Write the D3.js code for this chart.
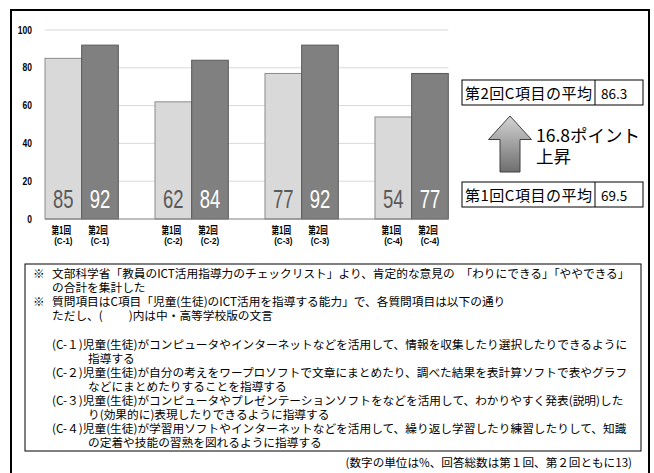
<!DOCTYPE html>
<html>
<head>
<meta charset="utf-8">
<script src="https://cdn.jsdelivr.net/npm/d3@7"></script>
<style>
  body { margin: 0; background: #fff; }
  svg { display: block; }
</style>
</head>
<body>
<div id="chart"></div>
<script>
// data
const categories = ["C-1", "C-2", "C-3", "C-4"];
const round1 = [85, 62, 77, 54];
const round2 = [92, 84, 92, 77];
const yTicks = [0, 20, 40, 60, 80, 100];
const roundLabels = ["第1回", "第2回"];
const avgLabels = ["第2回C項目の平均", "第1回C項目の平均"];
const avgValues = [86.3, 69.5];
const riseLabel = ["16.8ポイント", "上昇"];
// note lines: [marker, text, indent]
const noteLines = [
  ["※", "文部科学省「教員のICT活用指導力のチェックリスト」より、肯定的な意見の　「わりにできる」「ややできる」", 0],
  ["", "の合計を集計した", 0],
  ["※", "質問項目はC項目「児童(生徒)のICT活用を指導する能力」で、各質問項目は以下の通り", 0],
  ["", "ただし、(　　 )内は中・高等学校版の文言", 0],
  ["", "", 0],
  ["", "(C-１)児童(生徒)がコンピュータやインターネットなどを活用して、情報を収集したり選択したりできるように", 0],
  ["", "指導する", 1],
  ["", "(C-２)児童(生徒)が自分の考えをワープロソフトで文章にまとめたり、調べた結果を表計算ソフトで表やグラフ", 0],
  ["", "などにまとめたりすることを指導する", 1],
  ["", "(C-３)児童(生徒)がコンピュータやプレゼンテーションソフトをなどを活用して、わかりやすく発表(説明)した", 0],
  ["", "り(効果的に)表現したりできるように指導する", 1],
  ["", "(C-４)児童(生徒)が学習用ソフトやインターネットなどを活用して、繰り返し学習したり練習したりして、知識", 0],
  ["", "の定着や技能の習熟を図れるように指導する", 1]
];
const footnote = "(数字の単位は%、回答総数は第１回、第２回ともに13)";

const width = 654, height = 473;
const jp = "'Noto Sans CJK JP', sans-serif";
const latin = "'Liberation Sans', Arial, sans-serif";

const svg = d3.select("#chart").append("svg")
  .attr("width", width).attr("height", height);

// outer frame
svg.append("rect")
  .attr("x", 11).attr("y", 10).attr("width", 638).attr("height", 480)
  .attr("fill", "none").attr("stroke", "#000").attr("stroke-width", 2);

// scales
const y = d3.scaleLinear().domain([0, 100]).range([219, 30]);
const x0 = d3.scaleBand().domain(categories).range([45, 448.3])
  .paddingInner(1 / 3).paddingOuter(0);
const x1 = d3.scaleBand().domain([0, 1]).range([0, x0.bandwidth()]);

// grid
svg.append("g").selectAll("line").data(yTicks.filter(d => d > 0)).join("line")
  .attr("x1", x0.range()[0]).attr("x2", x0.range()[1])
  .attr("y1", d => y(d)).attr("y2", d => y(d))
  .attr("stroke", "#d9d9d9").attr("stroke-width", 1);

// y tick labels
svg.append("g").selectAll("text").data(yTicks).join("text")
  .attr("transform", d => `translate(32,${y(d) + 3.5}) scale(0.85,1)`)
  .attr("text-anchor", "end")
  .attr("font-family", latin).attr("font-weight", "bold")
  .attr("font-size", 10).attr("fill", "#000")
  .text(d => d);

// bars
const rows = categories.map((c, i) => ({ cat: c, vals: [round1[i], round2[i]] }));
const fills = ["#d9d9d9", "#808080"];
const strokes = ["#8c8c8c", "#595959"];
const labelColors = ["#595959", "#ffffff"];

const groups = svg.append("g").selectAll("g").data(rows).join("g")
  .attr("transform", d => `translate(${x0(d.cat)},0)`);

groups.selectAll("rect").data(d => d.vals.map((v, k) => ({ v, k }))).join("rect")
  .attr("x", d => x1(d.k)).attr("width", x1.bandwidth())
  .attr("y", d => y(d.v)).attr("height", d => y(0) - y(d.v))
  .attr("fill", d => fills[d.k]).attr("stroke", d => strokes[d.k]).attr("stroke-width", 1);

groups.selectAll("text.val").data(d => d.vals.map((v, k) => ({ v, k }))).join("text")
  .attr("class", "val")
  .attr("transform", d => `translate(${x1(d.k) + x1.bandwidth() / 2},${y(0) - 11}) scale(0.74,1)`)
  .attr("text-anchor", "middle")
  .attr("font-family", latin).attr("font-size", 25)
  .attr("fill", d => labelColors[d.k])
  .text(d => d.v);

// baseline
svg.append("line")
  .attr("x1", x0.range()[0]).attr("x2", x0.range()[1])
  .attr("y1", y(0)).attr("y2", y(0))
  .attr("stroke", "#808080").attr("stroke-width", 1);

// x labels
const xl = groups.selectAll("g.xl").data(d => [0, 1].map(k => ({ k, cat: d.cat }))).join("g")
  .attr("class", "xl")
  .attr("transform", d => `translate(${x1(d.k) + x1.bandwidth() / 2},0)`);
xl.append("text")
  .attr("transform", "translate(-2,233.5) scale(0.72,1)")
  .attr("text-anchor", "middle")
  .attr("font-family", jp).attr("font-weight", "bold").attr("font-size", 10.5)
  .text(d => roundLabels[d.k]);
xl.append("text")
  .attr("transform", "translate(0,244) scale(0.85,1)")
  .attr("text-anchor", "middle")
  .attr("font-family", latin).attr("font-weight", "bold").attr("font-size", 9.5)
  .text(d => `(${d.cat})`);

// average boxes
const boxY = [80, 182];
const avg = svg.append("g").selectAll("g").data(avgLabels).join("g")
  .attr("transform", (d, i) => `translate(462,${boxY[i]})`);
avg.append("rect").attr("width", 181).attr("height", 25)
  .attr("fill", "#fff").attr("stroke", "#000").attr("stroke-width", 1);
avg.append("line").attr("x1", 133).attr("x2", 133).attr("y1", 0).attr("y2", 25)
  .attr("stroke", "#000");
avg.append("text").attr("x", 3).attr("y", 18.5)
  .attr("font-family", jp).attr("font-size", 15).attr("letter-spacing", 0.5)
  .text(d => d);
avg.append("text").attr("x", 139).attr("y", 18.5)
  .attr("font-family", jp).attr("font-size", 13.5)
  .text((d, i) => avgValues[i]);

// up arrow
const defs = svg.append("defs");
const grad = defs.append("linearGradient").attr("id", "ag")
  .attr("x1", 0).attr("y1", 0).attr("x2", 0).attr("y2", 1);
grad.append("stop").attr("offset", "0%").attr("stop-color", "#d4d4d4");
grad.append("stop").attr("offset", "100%").attr("stop-color", "#6e6e6e");
const ax = 510, aTop = 116, aMid = 139.5, aBot = 172, head = 21.5, shaft = 10;
svg.append("path")
  .attr("d", d3.line()([
    [ax, aTop], [ax + head, aMid], [ax + shaft, aMid], [ax + shaft, aBot],
    [ax - shaft, aBot], [ax - shaft, aMid], [ax - head, aMid]
  ]) + "Z")
  .attr("fill", "url(#ag)").attr("stroke", "#404040").attr("stroke-width", 1);

svg.append("g").selectAll("text").data(riseLabel).join("text")
  .attr("x", 536).attr("y", (d, i) => 141.5 + i * 21)
  .attr("font-family", jp).attr("font-size", 17.5)
  .text(d => d);

// notes box
const noteTop = 264, lineH = 14.1;
svg.append("rect")
  .attr("x", 25).attr("y", noteTop).attr("width", 616).attr("height", 187)
  .attr("fill", "none").attr("stroke", "#000").attr("stroke-width", 1);

const notes = svg.append("g")
  .attr("font-family", jp).attr("font-size", 11.7).attr("fill", "#000");
notes.selectAll("text.mk").data(noteLines.filter(d => d[0])).join("text")
  .attr("class", "mk")
  .attr("x", 33)
  .attr("y", d => noteTop + 14 + noteLines.indexOf(d) * lineH)
  .text(d => d[0]);
notes.selectAll("text.ln").data(noteLines).join("text")
  .attr("class", "ln")
  .attr("x", d => d[2] ? 88 : 52)
  .attr("y", (d, i) => noteTop + 14 + i * lineH)
  .text(d => d[1]);

svg.append("text")
  .attr("x", 632).attr("y", 467)
  .attr("text-anchor", "end")
  .attr("font-family", jp).attr("font-size", 11.6)
  .text(footnote);
</script>
</body>
</html>
